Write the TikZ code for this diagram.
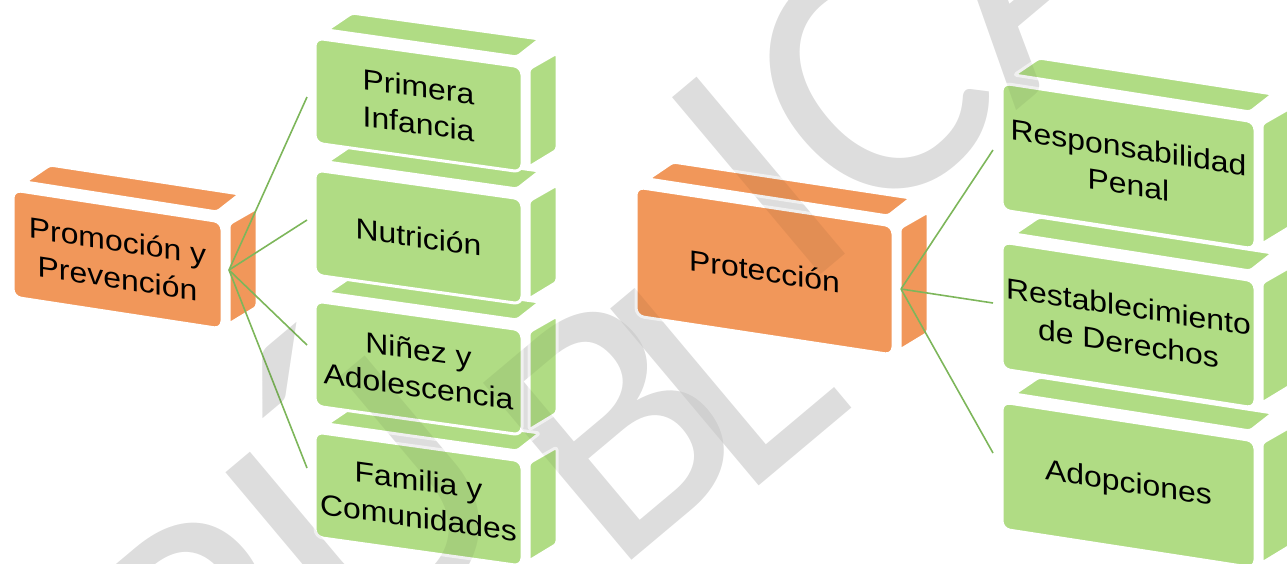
\documentclass[tikz,border=0pt]{standalone}
\usepackage{fontspec}
\setmainfont{Liberation Sans}
\newfontfamily\wmfont{Carlito}
\definecolor{boxgreen}{HTML}{B0DC84}
\definecolor{boxorange}{HTML}{F1975A}
\definecolor{linkgreen}{HTML}{7DB65A}
\definecolor{wmgray}{HTML}{EBEBEB}
\tikzset{
  face/.style={draw=white, line width=3pt, line join=round},
  label3d/.style={align=center, font=\fontsize{29}{37}\selectfont, inner sep=0pt},
  link/.style={draw=linkgreen, line width=1.6pt},
  watermark/.style={font=\wmfont\fontsize{360}{360}\selectfont, rotate=40, anchor=base west, inner sep=0pt}
}
% #1 name, #2 x, #3 y, #4 w, #5 h, #6 rise, #7 colour, #8 text
\newcommand\cubebox[8]{%
  \begin{scope}[shift={(#2,#3)}]
    \path[fill=#7, face, rounded corners=3pt] (12,-8) -- (37,-25) -- ({#4+18},{#6-28}) -- ({#4-5},{#6-10}) -- cycle;
    \path[fill=#7, face, rounded corners=3pt] ({#4+7},{#6+2}) -- ({#4+35},{#6-14}) -- ({#4+35},{#6+#5-22}) -- ({#4+7},{#6+#5-5}) -- cycle;
    \path[fill=#7, face, rounded corners=8pt] (0,0) -- (#4,#6) -- (#4,{#6+#5}) -- (0,#5) -- cycle;
    \node[label3d, yslant={-#6/#4}, xscale=1.1] (#1) at ({#4/2},{#6/2+#5/2}) {#8};
  \end{scope}}
% watermark letters, #1 = prefix of node names, #2 = colour options
\newcommand\wmletters[2]{%
  \node[watermark, #2] (#1a) at (213,785) {PÚ\phantom{BL}ICA};
  \node[watermark, #2] (#1b) at (293,845) {\phantom{PÚ}B\phantom{LICA}};
  \node[watermark, #2] (#1c) at (271,895) {\phantom{PÚB}L\phantom{ICA}};}
\begin{document}
\begin{tikzpicture}[x=1pt,y=-1pt]
  \useasboundingbox (0,0) rectangle (1287,563);
  \clip (0,0) rectangle (1287,563);
  \wmletters{wm}{text=wmgray}
  % left group
  \cubebox{pp}{13}{190}{209}{107}{32}{boxorange}{Promoción y\\Prevención}
  \cubebox{fc}{315}{432}{207}{105}{29}{boxgreen}{Familia y\\Comunidades}
  \cubebox{na}{315}{301}{207}{105}{29}{boxgreen}{Niñez y\\Adolescencia}
  \cubebox{nu}{315}{170}{207}{105}{29}{boxgreen}{Nutrición}
  \cubebox{pi}{315}{38}{207}{105}{29}{boxgreen}{Primera\\Infancia}
  % right group
  \cubebox{pr}{636}{187}{257}{129}{39}{boxorange}{Protección}
  \cubebox{ad}{1002}{402}{253}{127}{39}{boxgreen}{Adopciones}
  \cubebox{rd}{1002}{242}{253}{127}{39}{boxgreen}{Restablecimiento\\de Derechos}
  \cubebox{rp}{1002}{83}{253}{127}{39}{boxgreen}{Responsabilidad\\Penal}
  % connectors
  \coordinate (pp-out) at (229,270);
  \coordinate (pi-in) at (307,97);
  \coordinate (nu-in) at (307,220);
  \coordinate (na-in) at (307,345);
  \coordinate (fc-in) at (307,468);
  \coordinate (pr-out) at (901,289);
  \coordinate (rp-in) at (993,150);
  \coordinate (rd-in) at (993,303);
  \coordinate (ad-in) at (993,453);
  \draw[link] (pp-out) -- (pi-in);
  \draw[link] (pp-out) -- (nu-in);
  \draw[link] (pp-out) -- (na-in);
  \draw[link] (pp-out) -- (fc-in);
  \draw[link] (pr-out) -- (rp-in);
  \draw[link] (pr-out) -- (rd-in);
  \draw[link] (pr-out) -- (ad-in);
  \wmletters{wmtop}{text=black, opacity=0.06}
\end{tikzpicture}
\end{document}
